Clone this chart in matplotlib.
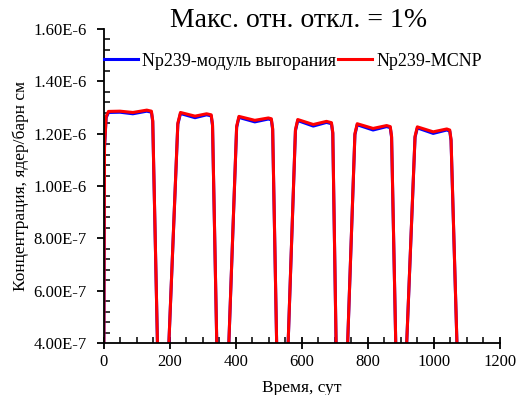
import matplotlib
matplotlib.use('Agg')
import matplotlib.pyplot as plt
from matplotlib.ticker import MultipleLocator, FuncFormatter

# font: Times-like serif as in the original Excel chart
plt.rcParams['font.family'] = ['Liberation Serif', 'DejaVu Serif']

# time points, days
time_days = [0, 3, 8, 15, 50, 89, 131, 145, 149, 170,
             185, 225, 233, 277, 312, 326, 330, 349,
             368, 403, 410, 458, 499, 508, 512, 530,
             548, 581, 588, 635, 675, 690, 694, 709,
             728, 761, 768, 816, 857, 868, 872, 891,
             905, 943, 950, 998, 1039, 1048, 1052, 1079]

# Np239 concentration, MCNP (red)
np239_mcnp = [0.0, 1.150e-6, 1.265e-6, 1.285e-6, 1.286e-6, 1.281e-6, 1.290e-6, 1.286e-6, 1.250e-6, 0.0,
              0.0, 1.240e-6, 1.281e-6, 1.267e-6, 1.276e-6, 1.272e-6, 1.235e-6, 0.0,
              0.0, 1.228e-6, 1.266e-6, 1.251e-6, 1.260e-6, 1.257e-6, 1.220e-6, 0.0,
              0.0, 1.215e-6, 1.254e-6, 1.235e-6, 1.247e-6, 1.242e-6, 1.205e-6, 0.0,
              0.0, 1.200e-6, 1.238e-6, 1.220e-6, 1.231e-6, 1.227e-6, 1.190e-6, 0.0,
              0.0, 1.190e-6, 1.226e-6, 1.207e-6, 1.218e-6, 1.214e-6, 1.178e-6, 0.0]

# Np239 concentration, burnup module (blue)
np239_burnup = [0.0, 1.146e-6, 1.261e-6, 1.281e-6, 1.282e-6, 1.276e-6, 1.286e-6, 1.282e-6, 1.246e-6, 0.0,
                0.0, 1.236e-6, 1.277e-6, 1.261e-6, 1.272e-6, 1.268e-6, 1.231e-6, 0.0,
                0.0, 1.224e-6, 1.262e-6, 1.245e-6, 1.256e-6, 1.253e-6, 1.216e-6, 0.0,
                0.0, 1.211e-6, 1.250e-6, 1.229e-6, 1.243e-6, 1.238e-6, 1.201e-6, 0.0,
                0.0, 1.196e-6, 1.234e-6, 1.214e-6, 1.227e-6, 1.223e-6, 1.186e-6, 0.0,
                0.0, 1.186e-6, 1.222e-6, 1.201e-6, 1.214e-6, 1.210e-6, 1.174e-6, 0.0]


def sci_label(v, pos):
    # Excel style labels, e.g. 1.60E-6
    if v == 0:
        return '0'
    s = '%.2E' % v
    mant, exp = s.split('E')
    return '%sE%d' % (mant, int(exp))


fig = plt.figure(figsize=(5.17, 3.95), dpi=100)
ax = fig.add_axes([0.2002, 0.1316, 0.7668, 0.795])

ax.plot(time_days, np239_burnup, color='#0000ff', lw=2.2,
        solid_joinstyle='round', label='Np239-модуль выгорания')
ax.plot(time_days, np239_mcnp, color='#ff0000', lw=2.2,
        solid_joinstyle='round', label='Np239-MCNP')

ax.set_xlim(0, 1200)
ax.set_ylim(4.0e-7, 1.6e-6)
ax.xaxis.set_major_locator(MultipleLocator(200))
ax.xaxis.set_minor_locator(MultipleLocator(50))
ax.yaxis.set_major_locator(MultipleLocator(2e-7))
ax.yaxis.set_minor_locator(MultipleLocator(4e-8))
ax.yaxis.set_major_formatter(FuncFormatter(sci_label))

for side in ['top', 'right']:
    ax.spines[side].set_visible(False)
for side in ['left', 'bottom']:
    ax.spines[side].set_linewidth(1.3)

ax.tick_params(axis='x', which='major', direction='inout', length=8, width=1.3,
               labelsize=12, pad=4)
ax.tick_params(axis='x', which='minor', direction='in', length=4, width=1.1)
ax.tick_params(axis='y', which='major', direction='out', length=5, width=1.3,
               labelsize=12, pad=7)
ax.tick_params(axis='y', which='minor', direction='in', length=4, width=1.1)

ax.set_xlabel('Время, сут', fontsize=12.5, labelpad=7)
ax.set_ylabel('Концентрация, ядер/барн см', fontsize=12.5, labelpad=3)

# title sits a little lower than matplotlib's default place
fig.text(0.577, 1 - 27 / 395, 'Макс. отн. откл. = 1%', fontsize=20,
         ha='center', va='baseline')

ax.legend(loc='center left', bbox_to_anchor=(0.0, 0.898), ncol=2, frameon=False,
          fontsize=13, handlelength=1.9, handletextpad=0.25, columnspacing=0.1,
          borderaxespad=0, borderpad=0)

fig.savefig('out.png', dpi=100)
